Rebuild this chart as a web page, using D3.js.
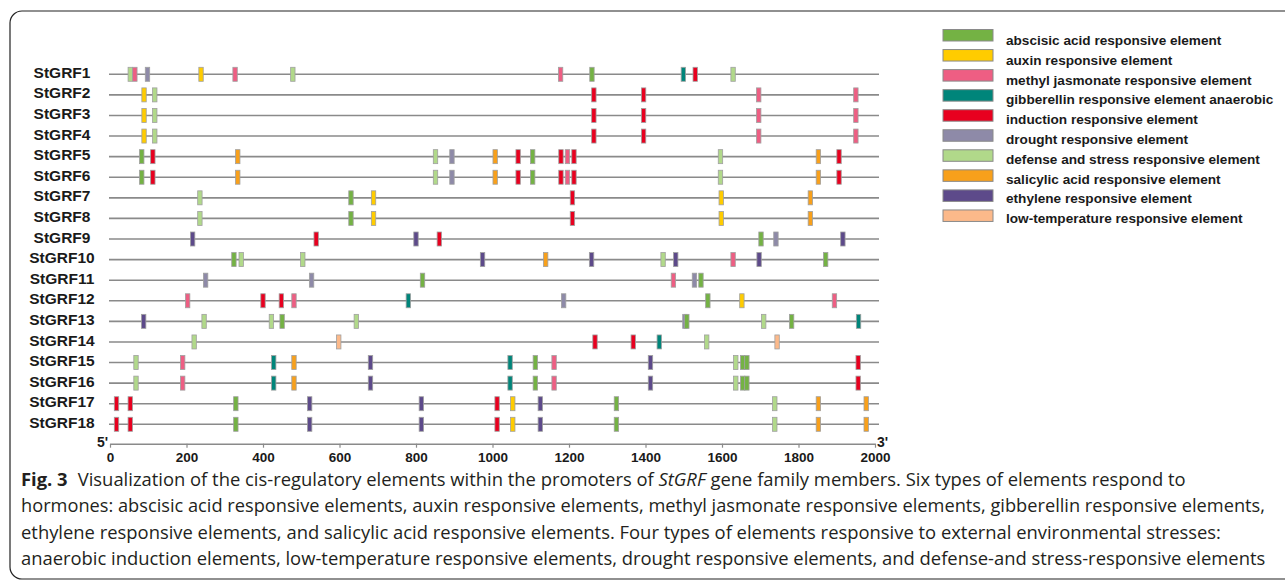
<!DOCTYPE html>
<html>
<head>
<meta charset="utf-8">
<script src="https://cdn.jsdelivr.net/npm/d3@7/dist/d3.min.js"></script>
<style>
  body { margin: 0; background: #fff; }
  .chart text { font-family: "Liberation Sans", Arial, sans-serif; fill: #1a1a1a; }
  .caption text { font-family: "Open Sans", sans-serif; fill: #231f20; }
</style>
</head>
<body>
<div class="chart"></div>
<script>
var svgWidth = 1285;
var svgHeight = 582;

// gene rows, top to bottom
var genes = ["StGRF1", "StGRF2", "StGRF3", "StGRF4", "StGRF5", "StGRF6", "StGRF7", "StGRF8", "StGRF9",
  "StGRF10", "StGRF11", "StGRF12", "StGRF13", "StGRF14", "StGRF15", "StGRF16", "StGRF17", "StGRF18"];

// element types (legend order)
var typeKeys = ["ABA", "AUX", "MeJA", "GA", "ANA", "DRT", "DEF", "SA", "ETH", "LTR"];
var typeLabels = [
  "abscisic acid responsive element",
  "auxin responsive element",
  "methyl jasmonate responsive element",
  "gibberellin responsive element anaerobic",
  "induction responsive element",
  "drought responsive element",
  "defense and stress responsive element",
  "salicylic acid responsive element",
  "ethylene responsive element",
  "low-temperature responsive element"
];
var typeColors = ["#74b244", "#ffcc00", "#ee5e83", "#00857a", "#e8001f", "#8e8aa8", "#b1d98a", "#f8a01b", "#5d4a8a", "#fcb98a"];

var axisTicks = [0, 200, 400, 600, 800, 1000, 1200, 1400, 1600, 1800, 2000];

// element positions (bp from 5') per gene: [position, type]
var grf1 = [[53, "DEF"], [65, "MeJA"], [98, "DRT"], [238, "AUX"], [327, "MeJA"], [478, "DEF"], [1178, "MeJA"], [1260, "ABA"], [1499, "GA"], [1530, "ANA"], [1629, "DEF"]];
var grf2 = [[89, "AUX"], [117, "DEF"], [1265, "ANA"], [1395, "ANA"], [1696, "MeJA"], [1950, "MeJA"]];
var grf5 = [[83, "ABA"], [112, "ANA"], [334, "SA"], [851, "DEF"], [894, "DRT"], [1007, "SA"], [1067, "ANA"], [1105, "ABA"], [1179, "ANA"], [1196, "MeJA"], [1213, "ANA"], [1596, "DEF"], [1852, "SA"], [1906, "ANA"]];
var grf7 = [[235, "DEF"], [630, "ABA"], [689, "AUX"], [1209, "ANA"], [1598, "AUX"], [1831, "SA"]];
var grf9 = [[216, "ETH"], [539, "ANA"], [800, "ETH"], [861, "ANA"], [1702, "ABA"], [1741, "DRT"], [1916, "ETH"]];
var grf10 = [[324, "ABA"], [343, "DEF"], [504, "DEF"], [974, "ETH"], [1139, "SA"], [1259, "ETH"], [1446, "DEF"], [1479, "ETH"], [1629, "MeJA"], [1697, "ETH"], [1871, "ABA"]];
var grf11 = [[250, "DRT"], [527, "DRT"], [817, "ABA"], [1473, "MeJA"], [1528, "DRT"], [1545, "ABA"]];
var grf12 = [[203, "MeJA"], [400, "ANA"], [448, "ANA"], [481, "MeJA"], [780, "GA"], [1186, "DRT"], [1563, "ABA"], [1652, "AUX"], [1894, "MeJA"]];
var grf13 = [[88, "ETH"], [246, "DEF"], [422, "DEF"], [450, "ABA"], [644, "DEF"], [1503, "DRT"], [1508, "ABA"], [1709, "DEF"], [1782, "ABA"], [1957, "GA"]];
var grf14 = [[220, "DEF"], [598, "LTR"], [1268, "ANA"], [1368, "ANA"], [1436, "GA"], [1560, "DEF"], [1744, "LTR"]];
var grf15 = [[68, "DEF"], [190, "MeJA"], [428, "GA"], [481, "SA"], [681, "ETH"], [1046, "GA"], [1112, "ABA"], [1161, "MeJA"], [1413, "ETH"], [1636, "DEF"], [1654, "ABA"], [1665, "ABA"], [1956, "ANA"]];
var grf17 = [[17, "ANA"], [53, "ANA"], [329, "ABA"], [522, "ETH"], [814, "ETH"], [1012, "ANA"], [1053, "AUX"], [1125, "ETH"], [1324, "ABA"], [1738, "DEF"], [1852, "SA"], [1977, "SA"]];

var rowElements = [grf1, grf2, grf2, grf2, grf5, grf5, grf7, grf7, grf9, grf10, grf11, grf12, grf13, grf14, grf15, grf15, grf17, grf17];

var captionLines = [
  null, // first line built with bold/italic parts below
  "hormones: abscisic acid responsive elements, auxin responsive elements, methyl jasmonate responsive elements, gibberellin responsive elements,",
  "ethylene responsive elements, and salicylic acid responsive elements. Four types of elements responsive to external environmental stresses:",
  "anaerobic induction elements, low-temperature responsive elements, drought responsive elements, and defense-and stress-responsive elements"
];

var svg = d3.select(".chart")
  .append("svg")
  .attr("width", svgWidth)
  .attr("height", svgHeight);

// rounded frame
svg.append("rect")
  .attr("x", 10).attr("y", 11)
  .attr("width", 1320).attr("height", 568)
  .attr("rx", 12).attr("ry", 12)
  .attr("fill", "none")
  .attr("stroke", "#222")
  .attr("stroke-width", 1.2);

var x = d3.scaleLinear().domain([0, 2000]).range([110, 875]);
var y = d3.scalePoint().domain(genes).range([74.3, 424.3]);
var color = d3.scaleOrdinal().domain(typeKeys).range(typeColors);

var chartGroup = svg.append("g");

// gene backbones
var rows = chartGroup.selectAll(".row")
  .data(genes)
  .enter()
  .append("g")
  .attr("class", "row")
  .attr("transform", d => `translate(0, ${y(d)})`);

rows.append("line")
  .attr("x1", x(0) - 1)
  .attr("x2", x(2000) + 4)
  .attr("stroke", "#8a8a8a")
  .attr("stroke-width", 1.6);

rows.append("text")
  .attr("x", 62)
  .attr("y", 3.6)
  .attr("text-anchor", "middle")
  .style("font-size", "15.5px")
  .style("font-weight", "bold")
  .text(d => d);

// element boxes
rows.selectAll(".el")
  .data((d, i) => rowElements[i])
  .enter()
  .append("rect")
  .attr("class", "el")
  .attr("x", d => x(d[0]) - 2.2)
  .attr("y", -7)
  .attr("width", 4.4)
  .attr("height", 14)
  .attr("fill", d => color(d[1]))
  .attr("stroke", "#a0a0a0")
  .attr("stroke-width", 0.8);

// x axis
var axisY = 443.7;
var bottomAxis = d3.axisBottom(x)
  .tickValues(axisTicks)
  .tickFormat(d3.format("d"))
  .tickSize(4)
  .tickSizeOuter(0)
  .tickPadding(4.5);

var axisG = chartGroup.append("g")
  .attr("transform", `translate(0, ${axisY})`)
  .call(bottomAxis);

axisG.select(".domain").attr("stroke", "#8a8a8a").attr("stroke-width", 1.4);
axisG.selectAll(".tick line").attr("stroke", "#8a8a8a").attr("stroke-width", 1.2);
axisG.selectAll(".tick text")
  .attr("fill", "#1a1a1a")
  .style("font-family", "'Liberation Sans', Arial, sans-serif")
  .style("font-size", "13.5px")
  .style("font-weight", "bold");

chartGroup.append("text")
  .attr("x", 108).attr("y", axisY + 3.5)
  .attr("text-anchor", "end")
  .style("font-size", "14px").style("font-weight", "bold")
  .text("5'");

chartGroup.append("text")
  .attr("x", 877).attr("y", axisY + 3.5)
  .style("font-size", "14px").style("font-weight", "bold")
  .text("3'");

// legend
var legend = chartGroup.selectAll(".legend")
  .data(typeKeys)
  .enter()
  .append("g")
  .attr("class", "legend");

legend.append("rect")
  .attr("x", 943)
  .attr("y", (d, i) => 29.5 + i * 20.05)
  .attr("width", 50)
  .attr("height", 11.5)
  .attr("fill", d => color(d))
  .attr("stroke", "#8a8a8a")
  .attr("stroke-width", 1);

legend.append("text")
  .attr("x", 1006)
  .attr("y", (d, i) => 45 + i * 19.8)
  .style("font-size", "13.6px")
  .style("font-weight", "bold")
  .text((d, i) => typeLabels[i]);

// caption
var cap = svg.append("g").attr("class", "caption");
var capSize = 16;
var baselines = [485.5, 512, 538.5, 565];

var first = cap.append("text").attr("x", 21).attr("y", baselines[0]).style("font-size", capSize + "px");
first.append("tspan").style("font-weight", "bold").text("Fig. 3");
first.append("tspan").attr("dx", 9).text("Visualization of the cis-regulatory elements within the promoters of ");
first.append("tspan").style("font-style", "italic").text("StGRF");
first.append("tspan").text(" gene family members. Six types of elements respond to");

captionLines.forEach(function(line, i) {
  if (!line) return;
  cap.append("text")
    .attr("x", 21)
    .attr("y", baselines[i])
    .style("font-size", capSize + "px")
    .text(line);
});

// fit caption width to the reference line width
var capNodes = cap.selectAll("text").nodes();
var w = capNodes[3].getComputedTextLength();
var fitted = capSize * 1245 / w;
cap.selectAll("text").style("font-size", fitted + "px");
first.select("tspan:nth-child(2)").attr("dx", fitted * 0.55);
// second line runs to the same right edge as the last one
d3.select(capNodes[1]).attr("textLength", 1244).attr("lengthAdjust", "spacingAndGlyphs");
</script>
</body>
</html>
